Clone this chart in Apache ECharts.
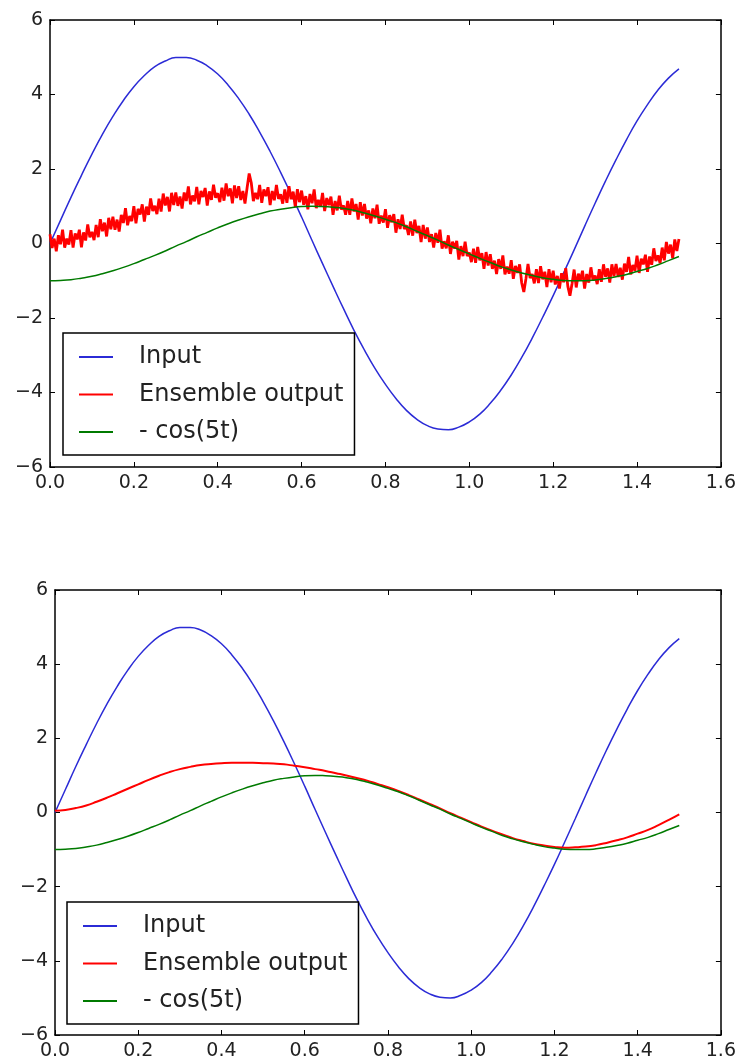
<!DOCTYPE html>
<html><head><meta charset="utf-8">
<style>html,body{margin:0;padding:0;background:#fff}#c{width:739px;height:1063px}</style>
<script src="https://cdn.jsdelivr.net/npm/echarts@6/dist/echarts.min.js"></script>
</head><body><div id="c"></div>
<script>
// sample times (s)
const tCoarse = [0,0.025,0.05,0.075,0.1,0.125,0.15,0.175,0.2,0.225,0.25,0.275,0.3,0.325,0.35,0.375,0.4,0.425,0.45,0.475,0.5,0.525,0.55,0.575,0.6,0.625,0.65,0.675,0.7,0.725,0.75,0.775,0.8,0.825,0.85,0.875,0.9,0.925,0.95,0.975,1.0,1.025,1.05,1.075,1.1,1.125,1.15,1.175,1.2,1.225,1.25,1.275,1.3,1.325,1.35,1.375,1.4,1.425,1.45,1.475,1.5];
// Input
const inputVals = [0,0.62,1.24,1.83,2.40,2.93,3.41,3.84,4.21,4.51,4.75,4.90,4.99,4.99,4.92,4.77,4.55,4.25,3.89,3.47,2.99,2.47,1.91,1.32,0.71,0.08,-0.54,-1.15,-1.75,-2.33,-2.86,-3.35,-3.78,-4.16,-4.48,-4.72,-4.89,-4.98,-5.00,-4.93,-4.79,-4.58,-4.29,-3.94,-3.53,-3.06,-2.54,-1.98,-1.40,-0.79,-0.17,0.46,1.08,1.68,2.25,2.79,3.29,3.73,4.12,4.44,4.69];
// - cos(5t)
const cosVals = [-1.00,-0.99,-0.97,-0.93,-0.88,-0.81,-0.73,-0.64,-0.54,-0.43,-0.32,-0.20,-0.07,0.05,0.18,0.30,0.42,0.53,0.63,0.72,0.80,0.87,0.92,0.96,0.99,1.00,0.99,0.97,0.94,0.89,0.82,0.74,0.65,0.56,0.45,0.33,0.21,0.09,-0.04,-0.16,-0.28,-0.40,-0.51,-0.62,-0.71,-0.79,-0.86,-0.92,-0.96,-0.99,-1.00,-1.00,-0.98,-0.94,-0.89,-0.83,-0.75,-0.67,-0.57,-0.46,-0.35];
// Ensemble output (bottom panel, filtered)
const ensembleSmooth = [0.05,0.07,0.12,0.19,0.29,0.40,0.52,0.64,0.76,0.88,0.99,1.09,1.17,1.23,1.28,1.31,1.33,1.34,1.34,1.34,1.33,1.32,1.30,1.26,1.22,1.17,1.12,1.06,1.00,0.93,0.86,0.77,0.68,0.58,0.47,0.35,0.23,0.11,-0.02,-0.14,-0.26,-0.38,-0.49,-0.59,-0.69,-0.77,-0.84,-0.89,-0.93,-0.95,-0.94,-0.92,-0.88,-0.82,-0.75,-0.67,-0.57,-0.47,-0.34,-0.20,-0.05];
// Ensemble output (top panel, raw), sampled every 0.005 s
const fineStep = 0.005;
const ensembleRaw = [
0.25,-0.12,0.13,-0.21,0.22, -0.02,0.37,-0.11,0.13,-0.03, 0.36,-0.11,0.27,0.11,0.37, -0.10,0.30,0.08,0.51,0.17,
0.31,0.09,0.50,0.17,0.65, 0.33,0.56,0.19,0.69,0.38, 0.72,0.37,0.64,0.32,0.77, 0.55,0.95,0.49,0.74,0.60,
1.00,0.54,0.93,0.78,1.05, 0.59,0.99,0.77,1.21,0.87, 1.01,0.79,1.20,0.86,1.34, 1.02,1.25,0.86,1.36,1.03,
1.37,1.01,1.26,0.94,1.37, 1.14,1.53,1.05,1.29,1.13, 1.52,1.05,1.41,1.25,1.49, 1.02,1.40,1.17,1.58,1.23,
1.35,1.11,1.50,1.15,1.61, 1.27,1.48,1.08,1.56,1.22, 1.54,1.17,1.41,1.07,1.49, 1.88,1.63,1.14,1.36,1.19,
1.57,1.09,1.45,1.27,1.51, 1.03,1.41,1.16,1.57,1.20, 1.32,1.07,1.45,1.09,1.54, 1.19,1.39,0.98,1.46,1.11,
1.42,1.04,1.27,0.92,1.33, 1.08,1.45,0.95,1.17,0.99, 1.36,0.87,1.22,1.03,1.26, 0.77,1.14,0.89,1.28,0.91,
1.02,0.77,1.14,0.77,1.21, 0.86,1.06,0.64,1.11,0.75, 1.06,0.67,0.89,0.54,0.94, 0.68,1.04,0.53,0.75,0.56,
0.92,0.42,0.76,0.57,0.79, 0.29,0.65,0.39,0.77,0.39, 0.49,0.23,0.59,0.21,0.64, 0.28,0.47,0.04,0.50,0.13,
0.43,0.04,0.25,-0.11,0.28, 0.02,0.37,-0.14,0.06,-0.13, 0.22,-0.28,0.05,-0.14,0.07, -0.43,-0.07,-0.34,0.05,-0.34,
-0.24,-0.50,-0.14,-0.52,-0.09, -0.45,-0.26,-0.68,-0.23,-0.59, -0.29,-0.68,-0.46,-0.82,-0.42, -0.68,-0.32,-0.83,-0.62,-0.81,
-0.45,-0.95,-0.60,-0.79,-0.56, -1.06,-1.30,-0.95,-0.55,-0.93, -0.82,-1.07,-0.69,-1.06,-0.61, -0.96,-0.76,-1.17,-0.69,-1.04,
-0.73,-1.10,-0.87,-1.21,-0.80, -1.04,-0.66,-1.15,-1.40,-1.08, -0.70,-1.18,-0.81,-0.98,-0.73, -1.21,-0.82,-1.05,-0.64,-0.99,
-0.86,-1.09,-0.69,-1.03,-0.56, -0.89,-0.67,-1.05,-0.56,-0.88, -0.55,-0.90,-0.65,-0.97,-0.54, -0.76,-0.36,-0.83,-0.58,-0.73,
-0.33,-0.79,-0.41,-0.56,-0.30, -0.76,-0.35,-0.57,-0.13,-0.47, -0.32,-0.53,-0.11,-0.45,0.04, -0.27,-0.03,-0.40,0.11,-0.20,
0.12];
const seriesNames = ['Input', 'Ensemble output', '- cos(5t)'];
const xTicks = {min: 0, max: 1.6, interval: 0.2};
const yTicks = {min: -6, max: 6, interval: 2};

const FONT = '"DejaVu Sans", sans-serif';
const BLUE = '#2b2bd6', RED = '#ff0000', GREEN = '#007a00';

function pairs(xs, ys) { return ys.map((y, i) => [xs[i], y]); }
const rawPairs = ensembleRaw.map((y, i) => [+(i * fineStep).toFixed(3), y]);

function xAx(grid, pos, showLabel) {
  return {gridIndex: grid, type: 'value', min: xTicks.min, max: xTicks.max, interval: xTicks.interval, position: pos,
    axisLine: {show: true, onZero: false, lineStyle: {color: '#000', width: 1.5}},
    axisTick: {show: true, inside: true, length: 5, lineStyle: {color: '#000', width: 1}},
    axisLabel: {show: showLabel, formatter: v => v.toFixed(1), fontSize: 19, color: '#222', margin: 7, fontFamily: FONT},
    splitLine: {show: false}};
}
function yAx(grid, pos, showLabel) {
  return {gridIndex: grid, type: 'value', min: yTicks.min, max: yTicks.max, interval: yTicks.interval, position: pos,
    axisLine: {show: true, onZero: false, lineStyle: {color: '#000', width: 1.5}},
    axisTick: {show: true, inside: true, length: 5, lineStyle: {color: '#000', width: 1}},
    axisLabel: {show: showLabel, formatter: v => v < 0 ? '\u2212' + (-v) : String(v), fontSize: 19, color: '#222', margin: 7, fontFamily: FONT},
    splitLine: {show: false}};
}
function legendAt(left, top) {
  return {data: seriesNames, left: left, top: top, orient: 'vertical',
    icon: 'path://M0,0 L34,0 L34,2 L0,2 Z', itemWidth: 34, itemHeight: 2, itemGap: 9.5,
    padding: [10, 11, 9, 16], borderColor: '#000', borderWidth: 1.5, borderRadius: 0, backgroundColor: '#fff',
    selectedMode: false,
    textStyle: {fontSize: 24, fontFamily: FONT, color: '#222', lineHeight: 28, padding: [0, 0, 0, 21]}};
}
function line(name, data, color, xi, yi, smooth, width) {
  return {type: 'line', name: name, data: data, xAxisIndex: xi, yAxisIndex: yi, symbol: 'none', smooth: smooth,
    lineStyle: {color: color, width: width}, itemStyle: {color: color}, animation: false};
}

const chart = echarts.init(document.getElementById('c'), null, {renderer: 'canvas'});
chart.setOption({
  backgroundColor: '#fff',
  animation: false,
  grid: [
    {left: 50, top: 20, width: 671, height: 447, containLabel: false},
    {left: 55, top: 590, width: 669, height: 445, containLabel: false}
  ],
  xAxis: [xAx(0, 'bottom', true), xAx(0, 'top', false), xAx(1, 'bottom', true), xAx(1, 'top', false)],
  yAxis: [yAx(0, 'left', true), yAx(0, 'right', false), yAx(1, 'left', true), yAx(1, 'right', false)],
  legend: [legendAt(63, 333), legendAt(67, 902)],
  series: [
    line(seriesNames[0], pairs(tCoarse, inputVals), BLUE, 0, 0, 0.5, 1.5),
    line(seriesNames[1], rawPairs, RED, 0, 0, false, 2.8),
    line(seriesNames[2], pairs(tCoarse, cosVals), GREEN, 0, 0, 0.5, 1.5),
    line(seriesNames[0], pairs(tCoarse, inputVals), BLUE, 2, 2, 0.5, 1.5),
    line(seriesNames[1], pairs(tCoarse, ensembleSmooth), RED, 2, 2, 0.5, 2),
    line(seriesNames[2], pairs(tCoarse, cosVals), GREEN, 2, 2, 0.5, 1.5)
  ]
});
</script></body></html>
